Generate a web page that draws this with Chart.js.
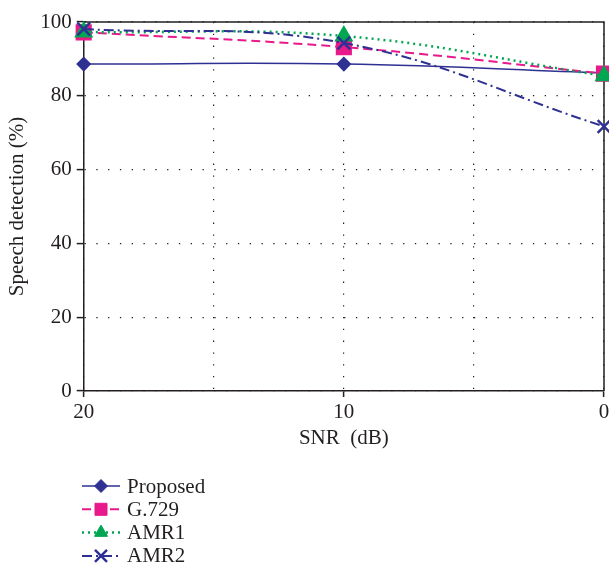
<!DOCTYPE html>
<html>
<head>
<meta charset="utf-8">
<script src="https://cdn.jsdelivr.net/npm/chart.js@4/dist/chart.umd.min.js"></script>
<style>
html,body{margin:0;padding:0;background:#fff;}
#wrap{width:609px;height:567px;}
</style>
</head>
<body>
<div id="wrap"><canvas id="c" width="609" height="567"></canvas></div>
<script>
const snr = [20, 10, 0];
const proposed = [88.6, 88.6, 86.2];
const g729 = [97.2, 93.2, 86.0];
const amr1 = [97.3, 96.2, 85.4];
const amr2 = [98.1, 94.3, 71.7];
const xTickLabels = {20: '20', 10: '10', 0: '0'};
const seriesNames = ['Proposed', 'G.729', 'AMR1', 'AMR2'];

const NAVY = '#2e3192';
const PINK = '#e8198b';
const GREEN = '#00a651';
const INK = '#231f20';
const FONT = "'Liberation Serif', 'DejaVu Serif', serif";

function pts(vals){ return snr.map((x,i)=>({x:x, y:vals[i]})); }

const datasets = [
  {label: seriesNames[0], data: pts(proposed), borderColor: NAVY, backgroundColor: NAVY,
   borderWidth: 1.5, pointStyle: 'rectRot', pointRadius: 6.5, order: 4},
  {label: seriesNames[1], data: pts(g729), borderColor: PINK, backgroundColor: PINK,
   borderWidth: 2, borderDash: [9,5], pointStyle: 'rect', pointRadius: 10, order: 3},
  {label: seriesNames[2], data: pts(amr1), borderColor: GREEN, backgroundColor: GREEN,
   borderWidth: 2.5, borderDash: [2,4], pointStyle: 'triangle', pointRadius: 8.5, order: 2},
  {label: seriesNames[3], data: pts(amr2), borderColor: NAVY, backgroundColor: NAVY,
   borderWidth: 2, borderDash: [10,4,2,4], pointStyle: 'crossRot', pointRadius: 9, pointBorderWidth: 2.5, order: 1}
].map(d => Object.assign({tension: 0.4, clip: false, fill: false, pointHoverRadius: d.pointRadius}, d));

const frame = {
  id: 'frame',
  beforeDatasetsDraw(chart){
    const a = chart.chartArea, ctx = chart.ctx;
    ctx.save();
    ctx.strokeStyle = INK;
    ctx.lineWidth = 1.5;
    ctx.setLineDash([]);
    ctx.beginPath();
    ctx.moveTo(a.left, a.top); ctx.lineTo(a.right, a.top); ctx.lineTo(a.right, a.bottom);
    ctx.stroke();
    ctx.restore();
  }
};

const legendPlugin = {
  id: 'vlegend',
  afterDraw(chart){
    const ctx = chart.ctx;
    const x0 = 82, x1 = 120, tx = 127;
    const y0 = 486, dy = 23.3;
    chart.data.datasets.forEach((ds, i) => {
      const y = y0 + i*dy;
      ctx.save();
      ctx.strokeStyle = ds.borderColor;
      ctx.lineWidth = ds.borderWidth;
      ctx.setLineDash(ds.borderDash || []);
      ctx.beginPath(); ctx.moveTo(x0, y); ctx.lineTo(x1, y); ctx.stroke();
      ctx.setLineDash([]);
      ctx.fillStyle = ds.backgroundColor;
      ctx.strokeStyle = ds.borderColor;
      ctx.lineWidth = ds.pointBorderWidth || 1;
      const rs = {rectRot: 6.5, rect: 8.5, triangle: 7.5, crossRot: 8.5};
      Chart.helpers.drawPoint(ctx, {pointStyle: ds.pointStyle, rotation: 0, radius: rs[ds.pointStyle], borderWidth: ds.pointBorderWidth || 1}, (x0+x1)/2, y);
      ctx.fillStyle = INK;
      ctx.font = "21px " + FONT;
      ctx.textBaseline = 'middle';
      ctx.textAlign = 'left';
      ctx.fillText(ds.label, tx, y + 1);
      ctx.restore();
    });
  }
};

new Chart(document.getElementById('c'), {
  type: 'line',
  data: {datasets},
  plugins: [frame, legendPlugin],
  options: {
    responsive: false,
    devicePixelRatio: 1,
    animation: false,
    events: [],
    layout: {autoPadding: false, padding: {top: 22, right: 5, bottom: 118, left: 5}},
    plugins: {legend: {display: false}, tooltip: {enabled: false}},
    scales: {
      x: {
        type: 'linear', reverse: true, min: 0, max: 20,
        afterFit: s => { s.paddingRight = 0; },
        ticks: {stepSize: 5, autoSkip: false, color: INK, padding: 5,
          font: {family: FONT, size: 21, lineHeight: 1},
          callback: v => (xTickLabels[v] !== undefined ? xTickLabels[v] : '')},
        grid: {color: INK, lineWidth: 1.2, drawTicks: true, tickLength: 6,
          tickColor: c => (c.tick && xTickLabels[c.tick.value] !== undefined) ? INK : 'rgba(0,0,0,0)',
          tickWidth: 1.5},
        border: {display: true, color: INK, width: 1.5, dash: [1.3, 10.5]},
        title: {display: true, text: 'SNR  (dB)', color: INK, font: {family: FONT, size: 21, lineHeight: 1}, padding: {top: 0, bottom: 0}}
      },
      y: {
        min: 0, max: 100,
        ticks: {stepSize: 20, color: INK, padding: 5, font: {family: FONT, size: 21}},
        grid: {color: INK, lineWidth: 1.2, drawTicks: true, tickLength: 7, tickColor: INK, tickWidth: 1.5},
        border: {display: true, color: INK, width: 1.5, dash: [1.3, 10.5]},
        title: {display: true, text: 'Speech detection (%)', color: INK, font: {family: FONT, size: 21}, padding: {top: 0, bottom: 5}}
      }
    }
  }
});
</script>
</body>
</html>
